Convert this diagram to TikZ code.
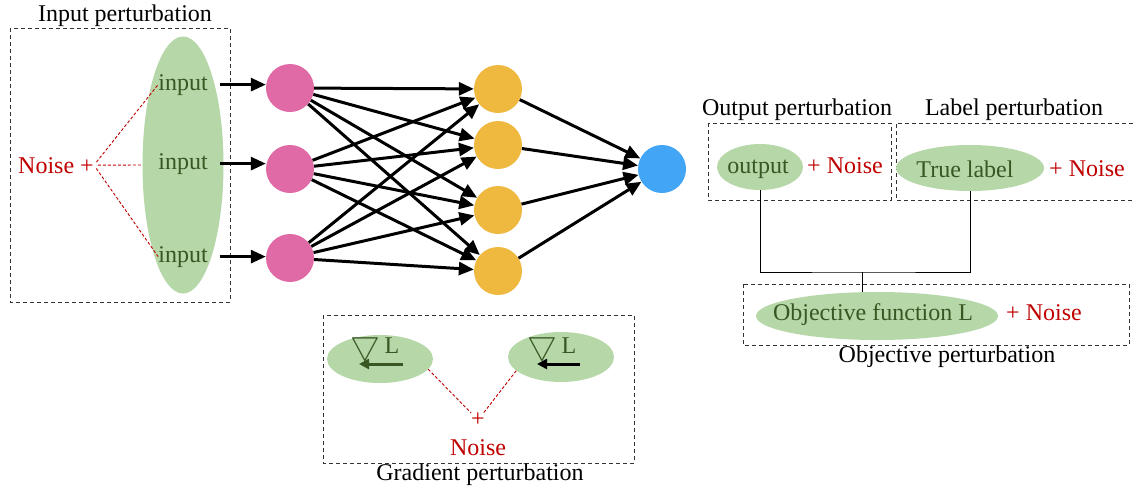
\documentclass[tikz,border=0pt]{standalone}
\usepackage{fontspec}
\usepackage{graphicx}
\setmainfont{Liberation Serif}
\usetikzlibrary{shapes.geometric,arrows.meta}
\definecolor{leaf}{RGB}{182,215,168}
\definecolor{moss}{RGB}{56,87,35}
\definecolor{noisered}{RGB}{192,0,0}
\definecolor{rose}{RGB}{224,106,166}
\definecolor{amber}{RGB}{239,185,64}
\definecolor{sky}{RGB}{66,165,245}
\newcommand{\gradL}{\raisebox{-1pt}{\scalebox{1.35}{$\bigtriangledown$}}\,L}
\tikzset{
  txt/.style={font=\fontsize{24}{28}\selectfont, inner sep=0pt, anchor=base},
  grn/.style={txt, text=moss},
  noisetxt/.style={txt, text=noisered},
  unit/.style={circle, minimum size=48pt, inner sep=0pt},
  blob/.style={ellipse, fill=leaf, draw=none, inner sep=0pt},
  frame/.style={draw=black!80, line width=1pt, dash pattern=on 4pt off 3pt},
  jitter/.style={draw=noisered, line width=0.9pt, dash pattern=on 3pt off 2pt},
  arr/.style={-{Triangle[length=15pt,width=13pt]}, line width=3pt},
  tick/.style={-{Triangle[length=10pt,width=10pt]}, line width=3pt},
}
\begin{document}
\begin{tikzpicture}[x=1pt,y=-1pt]
      \useasboundingbox (0,0) rectangle (1133,488);

      \draw[frame] (10,28) rectangle (230,302);
      \draw[frame] (323,315) rectangle (634,463);
      \draw[frame] (708,123) rectangle (891,200);
      \draw[frame] (1133,123) -- (896,123) -- (896,200) -- (1133,200);
      \draw[frame] (743,284) rectangle (1129,345);

      \node[txt] (TI) at (125,21) {Input perturbation};
      \node[txt] (TG) at (480,480) {Gradient perturbation};
      \node[txt] (TO) at (797,115) {Output perturbation};
      \node[txt] (TL) at (1014,115) {Label perturbation};
      \node[txt] (TJ) at (947,362) {Objective perturbation};

      \node[blob, minimum width=81pt, minimum height=257pt] (E) at (183,165) {};
      \node[grn] (I1) at (183,90) {input};
      \node[grn] (I2) at (183,169) {input};
      \node[grn] (I3) at (183,262) {input};
      \node[noisetxt] (N) at (56,173) {Noise +};
      \draw[jitter, shorten <=4pt] (N.east) -- (I1.west);
      \draw[jitter, shorten <=4pt] (N.east) -- (E.west);
      \draw[jitter, shorten <=4pt] (N.east) -- (I3.west);

      \node[unit, fill=rose] (P1) at (290,88) {};
      \node[unit, fill=rose] (P2) at (290,169) {};
      \node[unit, fill=rose] (P3) at (290,258) {};
      \node[unit, fill=amber] (O1) at (498,89) {};
      \node[unit, fill=amber] (O2) at (498,145) {};
      \node[unit, fill=amber] (O3) at (498,210) {};
      \node[unit, fill=amber] (O4) at (498,271) {};
      \node[unit, fill=sky] (Y) at (662,169) {};

      \foreach \k in {1,2,3}
        \draw[arr, shorten <=12pt] (I\k.east) -- (I\k.east -| P\k.west);
      \foreach \i in {1,2,3}
        \foreach \j in {1,...,4}
          \draw[arr] (P\i) -- (O\j);
      \foreach \j in {1,...,4}
        \draw[arr] (O\j) -- (Y);

      \node[blob, minimum width=106pt, minimum height=48pt] (G1) at (380,359) {};
      \node[blob, minimum width=106pt, minimum height=50pt] (G2) at (561,357) {};
      \node[grn] (D1) at (375,353) {\gradL};
      \node[grn] (D2) at (552,353) {\gradL};
      \coordinate (A1) at (403,364);
      \coordinate (B1) at (359,364);
      \coordinate (A2) at (580,364);
      \coordinate (B2) at (537,364);
      \draw[tick, draw=moss] (A1) -- (B1);
      \draw[tick] (A2) -- (B2);
      \node[noisetxt, anchor=center] (Q) at (478,420) {+};
      \node[noisetxt] (NG) at (478,455) {Noise};
      \draw[jitter] (G1.-12) -- (Q);
      \draw[jitter] (G2.197) -- (Q);

      \node[blob, minimum width=86pt, minimum height=46pt] (OE) at (760,167) {};
      \node[grn] (OT) at (758,173) {output};
      \node[noisetxt] (ON) at (845,173) {+ Noise};
      \node[blob, minimum width=148pt, minimum height=46pt] (TE) at (970,168) {};
      \node[grn] (TT) at (965,177) {True label};
      \node[noisetxt] (TN) at (1087,176) {+ Noise};
      \node[blob, minimum width=242pt, minimum height=48pt] (LE) at (877,316) {};
      \node[grn] (LT) at (873,320) {Objective function L};
      \node[noisetxt] (LN) at (1044,320) {+ Noise};

      \coordinate (J) at (862,272);
      \draw[line width=0.9pt] (OE.south) |- (J) -| (TE.south);
      \draw[line width=0.9pt] (J) -- (J |- LE.north);
    \end{tikzpicture}
\end{document}
